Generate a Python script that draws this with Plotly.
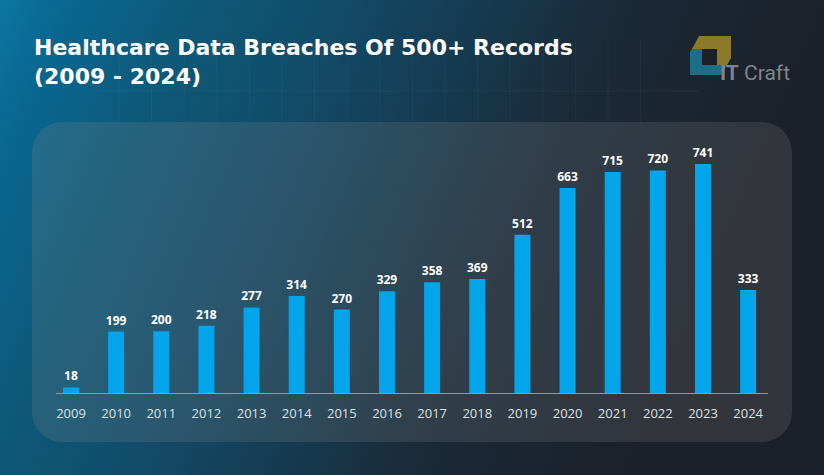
import base64
import plotly.graph_objects as go

years = ["2009", "2010", "2011", "2012", "2013", "2014", "2015", "2016",
         "2017", "2018", "2019", "2020", "2021", "2022", "2023", "2024"]
breaches = [18, 199, 200, 218, 277, 314, 270, 329, 358, 369, 512, 663, 715, 720, 741, 333]

title_text = "Healthcare Data Breaches Of 500+ Records<br>(2009 - 2024)"

# plot area in page pixels
L, R, T, B = 56, 768, 130, 393
W, H = R - L, B - T


def px(x):
    return (x - L) / W


def py(y):
    return (B - y) / H


# background: gradient, faint grid, rounded panel, logo mark
grid = "".join(
    f'<line x1="{x:.1f}" y1="40" x2="{x:.1f}" y2="122"/>'
    for x in [119 + 32.6 * i for i in range(17)]
)
svg = f'''<svg xmlns="http://www.w3.org/2000/svg" width="824" height="475" viewBox="0 0 824 475">
<defs><linearGradient id="bg" gradientUnits="userSpaceOnUse" x1="0" y1="0" x2="700" y2="300">
<stop offset="0" stop-color="#0b77a2"/>
<stop offset="0.08" stop-color="#0a6790"/>
<stop offset="0.24" stop-color="#0d5878"/>
<stop offset="0.39" stop-color="#114d6b"/>
<stop offset="0.75" stop-color="#1a2a38"/>
<stop offset="1" stop-color="#1c2029"/>
</linearGradient></defs>
<rect width="824" height="475" fill="url(#bg)"/>
<g stroke="#ffffff" stroke-opacity="0.04" stroke-width="1">{grid}
<line x1="100" y1="91" x2="700" y2="91"/></g>
<rect x="32" y="122" width="760" height="320" rx="30" ry="30" fill="#8c8c8c" fill-opacity="0.2"/>
<polygon points="699,36 731,36 731,58 727,65 717,65 717,49 702,49 692,49" fill="#8b7a2c"/>
<polygon points="692,49 702,49 702,65 717,65 727,65 721,75 690,75 690,52" fill="#1c6f84"/>
<rect x="702" y="49" width="15" height="16" fill="#1b2029"/>
</svg>'''
bg_uri = "data:image/svg+xml;base64," + base64.b64encode(svg.encode()).decode()

fig = go.Figure()

fig.add_trace(
    go.Bar(
        x=years,
        y=breaches,
        width=0.355,
        marker=dict(color="#02a4ea", line=dict(width=0)),
        text=breaches,
        textposition="outside",
        constraintext="none",
        textfont=dict(family="Open Sans", size=12, color="#ffffff", weight="bold"),
        cliponaxis=False,
        hoverinfo="x+y",
    )
)

fig.add_layout_image(
    dict(
        source=bg_uri,
        xref="paper", yref="paper",
        x=px(0), y=py(0),
        sizex=824 / W, sizey=475 / H,
        xanchor="left", yanchor="top",
        sizing="stretch",
        layer="below",
    )
)

fig.add_annotation(
    text=title_text,
    xref="paper", yref="paper",
    x=px(32), y=py(33),
    xanchor="left", yanchor="top",
    align="left",
    showarrow=False,
    font=dict(family="DejaVu Sans", size=22, color="#ffffff", weight="bold"),
)

fig.add_annotation(
    text="<b>IT</b> Craft",
    xref="paper", yref="paper",
    x=px(718), y=py(73),
    xanchor="left", yanchor="middle",
    showarrow=False,
    font=dict(family="Roboto", size=21, color="#7f858c"),
)

fig.update_layout(
    width=824,
    height=475,
    margin=dict(l=L, r=824 - R, t=T, b=475 - B, pad=0),
    paper_bgcolor="#1c2029",
    plot_bgcolor="rgba(0,0,0,0)",
    showlegend=False,
    xaxis=dict(
        type="category",
        range=[-0.332, 15.44],
        showgrid=False,
        zeroline=False,
        showline=True,
        linecolor="#8d9ba6",
        linewidth=1,
        ticks="",
        ticklabelstandoff=8,
        tickfont=dict(family="Open Sans", size=13, color="#dde1e4"),
        fixedrange=True,
    ),
    yaxis=dict(
        range=[0, 851],
        visible=False,
        fixedrange=True,
    ),
)

fig.write_html(
    "out.html",
    config={"displayModeBar": False},
    post_script="document.body.style.margin='0px';",
)
